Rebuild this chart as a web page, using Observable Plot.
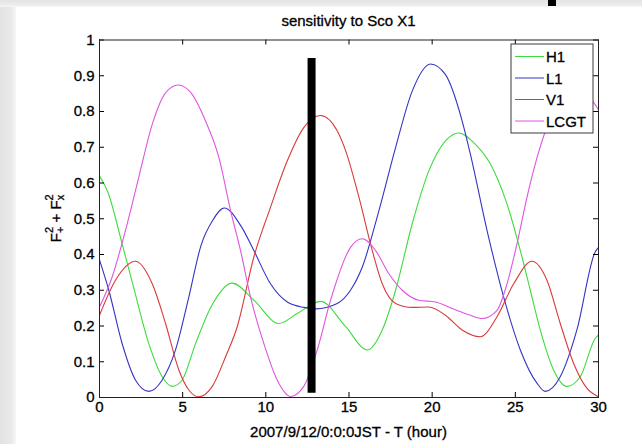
<!DOCTYPE html>
<html><head><meta charset="utf-8">
<script src="https://cdn.jsdelivr.net/npm/d3@7"></script>
<script src="https://cdn.jsdelivr.net/npm/@observablehq/plot@0.6"></script>
<style>
html,body{margin:0;padding:0;background:#fff;}
#chart{width:642px;height:444px;position:relative;overflow:hidden;}
#chart svg text{stroke:#000;stroke-width:0.3px;}
</style></head><body><div id="chart"></div>
<script>
// ---- data ----
const seriesNames  = ["H1", "L1", "V1", "LCGT"];
const seriesColors = ["#3ddc3d", "#3434c4", "#d93a3a", "#e055e0"];

const h1Hours  = [0, 0.5, 1.36, 2.04, 2.97, 3.77, 4.37, 4.97, 5.77, 6.78, 7.98, 9.28, 10.78, 11.89, 13.29, 14.8, 16.1, 17.0, 17.8, 18.8, 19.8, 20.8, 21.6, 22.6, 23.5, 24.5, 25.3, 25.9, 26.5, 27.3, 28.1, 28.9, 29.8, 30];
const h1Values = [0.62, 0.575, 0.43, 0.31, 0.15, 0.058, 0.031, 0.049, 0.15, 0.26, 0.32, 0.272, 0.207, 0.235, 0.269, 0.198, 0.133, 0.189, 0.30, 0.486, 0.634, 0.718, 0.740, 0.708, 0.653, 0.541, 0.411, 0.30, 0.189, 0.077, 0.031, 0.058, 0.165, 0.175];

const l1Hours  = [0, 0.56, 1.36, 2.16, 2.97, 3.77, 4.57, 5.37, 6.1, 6.8, 7.5, 8.5, 9.28, 10.28, 11.29, 12.28, 13.0, 14.29, 15.09, 15.8, 16.8, 17.8, 18.8, 19.9, 20.8, 21.8, 22.3, 23.3, 24.3, 25.3, 26.3, 26.8, 27.7, 28.7, 29.8, 30];
const l1Values = [0.385, 0.30, 0.151, 0.049, 0.017, 0.049, 0.133, 0.281, 0.425, 0.495, 0.53, 0.48, 0.411, 0.318, 0.267, 0.252, 0.248, 0.263, 0.30, 0.365, 0.523, 0.699, 0.857, 0.933, 0.903, 0.774, 0.68, 0.467, 0.281, 0.133, 0.040, 0.017, 0.058, 0.189, 0.407, 0.42];

const v1Hours  = [0, 0.96, 2.16, 3.17, 3.97, 4.77, 5.37, 5.97, 6.78, 7.58, 8.28, 9.28, 10.28, 11.29, 12.28, 13.29, 14.29, 14.8, 15.6, 16.4, 17.0, 17.8, 18.8, 19.8, 20.8, 21.8, 22.9, 23.9, 24.9, 26.0, 26.9, 27.7, 28.5, 29.3, 30];
const v1Values = [0.23, 0.328, 0.381, 0.318, 0.207, 0.077, 0.021, 0.002, 0.031, 0.114, 0.198, 0.393, 0.532, 0.662, 0.755, 0.789, 0.746, 0.69, 0.56, 0.411, 0.318, 0.263, 0.252, 0.253, 0.23, 0.189, 0.17, 0.226, 0.318, 0.381, 0.328, 0.207, 0.096, 0.026, 0.002];

const lcgtHours  = [0, 0.76, 1.56, 2.36, 3.17, 3.97, 4.73, 5.57, 6.37, 7.18, 7.88, 8.48, 9.08, 9.88, 10.68, 11.49, 12.28, 13.09, 13.89, 15.09, 15.8, 16.6, 17.4, 18.2, 19.2, 20.2, 21.2, 22.3, 23.0, 23.9, 24.5, 25.1, 25.7, 26.3, 27.0, 27.8, 28.55, 29.3, 30];
const lcgtValues = [0.253, 0.337, 0.467, 0.616, 0.764, 0.852, 0.874, 0.848, 0.774, 0.671, 0.523, 0.411, 0.281, 0.151, 0.049, 0.003, 0.031, 0.133, 0.272, 0.42, 0.444, 0.411, 0.346, 0.30, 0.272, 0.267, 0.249, 0.23, 0.221, 0.244, 0.318, 0.43, 0.56, 0.67, 0.77, 0.85, 0.874, 0.85, 0.805];

const markerHour  = [12.75];
const markerRange = [0.012, 0.948];

const xTicks      = [0, 5, 10, 15, 20, 25, 30];
const xTickLabels = ["0", "5", "10", "15", "20", "25", "30"];
const yTicks      = [0, 0.1, 0.2, 0.3, 0.4, 0.5, 0.6, 0.7, 0.8, 0.9, 1];
const yTickLabels = ["0", "0.1", "0.2", "0.3", "0.4", "0.5", "0.6", "0.7", "0.8", "0.9", "1"];

const titleText  = "sensitivity to Sco X1";
const xLabelText = "2007/9/12/0:0:0JST - T (hour)";

// ---- build table ----
const hoursBy  = [h1Hours, l1Hours, v1Hours, lcgtHours];
const valuesBy = [h1Values, l1Values, v1Values, lcgtValues];
const rows = seriesNames.flatMap((s, k) => hoursBy[k].map((h, i) => ({series: s, hour: h, value: valuesBy[k][i]})));

const W = 642, H = 444, mL = 99, mR = 44, mT = 39.5, mB = 47;
const innerW = W - mL - mR, innerH = H - mT - mB, tickLen = 5;
const font = "'Liberation Sans', Arial, Helvetica, sans-serif";
const fs = 15;

const plot = Plot.plot({
  width: W, height: H,
  marginLeft: mL, marginRight: mR, marginTop: mT, marginBottom: mB,
  style: {fontFamily: font, fontSize: fs + "px", color: "#000", background: "#fff"},
  x: {domain: [0, 30]},
  y: {domain: [0, 1]},
  color: {domain: seriesNames, range: seriesColors},
  marks: [
    Plot.line(rows, {x: "hour", y: "value", z: "series", stroke: "series", strokeWidth: 1.1, curve: "monotone-x"}),
    Plot.ruleX(markerHour, {x: d => d, y1: markerRange[0], y2: markerRange[1], stroke: "#000", strokeWidth: 8}),
    Plot.tickX(xTicks, {x: d => d, insetTop: innerH - tickLen, stroke: "#000"}),
    Plot.tickX(xTicks, {x: d => d, insetBottom: innerH - tickLen, stroke: "#000"}),
    Plot.tickY(yTicks, {y: d => d, insetRight: innerW - tickLen, stroke: "#000"}),
    Plot.tickY(yTicks, {y: d => d, insetLeft: innerW - tickLen, stroke: "#000"}),
    Plot.axisX(xTicks, {tickSize: 0, tickPadding: 4, tickFormat: d => xTickLabels[xTicks.indexOf(d)], label: null}),
    Plot.axisY(yTicks, {tickSize: 0, tickPadding: 5, tickFormat: d => yTickLabels[yTicks.indexOf(d)], label: null}),
    Plot.frame({stroke: "#222"})
  ]
});

const svg = d3.select(plot);

// title and axis labels
svg.append("text").attr("x", mL + innerW / 2).attr("y", 26).attr("text-anchor", "middle")
  .attr("font-size", fs).attr("fill", "#000").text(titleText);
svg.append("text").attr("x", mL + innerW / 2).attr("y", 437).attr("text-anchor", "middle")
  .attr("font-size", fs).attr("fill", "#000").text(xLabelText);

const yl = svg.append("text").attr("transform", `translate(61,${mT + innerH / 2}) rotate(-90)`)
  .attr("text-anchor", "middle").attr("font-size", fs).attr("fill", "#000");
yl.append("tspan").text("F");
yl.append("tspan").attr("font-size", 11).attr("dy", -8).text("2");
yl.append("tspan").attr("font-size", 11).attr("dx", -6.1).attr("dy", 11).text("+");
yl.append("tspan").attr("dy", -3).text(" + F");
yl.append("tspan").attr("font-size", 11).attr("dy", -8).text("2");
yl.append("tspan").attr("font-size", 11).attr("dx", -6.1).attr("dy", 11).text("x");

// legend
const lgX = 511, lgY = 44, lgW = 82, lgH = 89, rowH = 21.5;
const lg = svg.append("g");
lg.append("rect").attr("x", lgX).attr("y", lgY).attr("width", lgW).attr("height", lgH)
  .attr("fill", "#fff").attr("stroke", "#3a3a3a");
seriesNames.forEach((s, i) => {
  const cy = lgY + 12.5 + i * rowH;
  lg.append("line").attr("x1", lgX + 4).attr("x2", lgX + 33).attr("y1", cy).attr("y2", cy)
    .attr("stroke", seriesColors[i]).attr("stroke-width", 1);
  lg.append("text").attr("x", lgX + 35).attr("y", cy + 5.5).attr("text-anchor", "start")
    .attr("font-size", fs).attr("fill", "#000").text(s);
});

// window shadow bands of the screenshot
const defs = svg.append("defs");
const gl = defs.append("linearGradient").attr("id", "shL").attr("x1", 0).attr("x2", 1).attr("y1", 0).attr("y2", 0);
gl.append("stop").attr("offset", 0).attr("stop-color", "#e2e2e2");
gl.append("stop").attr("offset", 0.7).attr("stop-color", "#e9e9e9");
gl.append("stop").attr("offset", 1).attr("stop-color", "#f6f6f6");
const gt = defs.append("linearGradient").attr("id", "shT").attr("x1", 0).attr("x2", 0).attr("y1", 0).attr("y2", 1);
gt.append("stop").attr("offset", 0).attr("stop-color", "#e4e4e4");
gt.append("stop").attr("offset", 0.7).attr("stop-color", "#ececec");
gt.append("stop").attr("offset", 1).attr("stop-color", "#f7f7f7");
svg.append("rect").attr("x", 0).attr("y", 0).attr("width", 16).attr("height", H).attr("fill", "url(#shL)");
svg.append("rect").attr("x", 0).attr("y", 0).attr("width", W).attr("height", 7).attr("fill", "url(#shT)");
svg.append("rect").attr("x", 548).attr("y", 0).attr("width", 8).attr("height", 6).attr("fill", "#000");

document.getElementById("chart").appendChild(plot);
</script></body></html>
